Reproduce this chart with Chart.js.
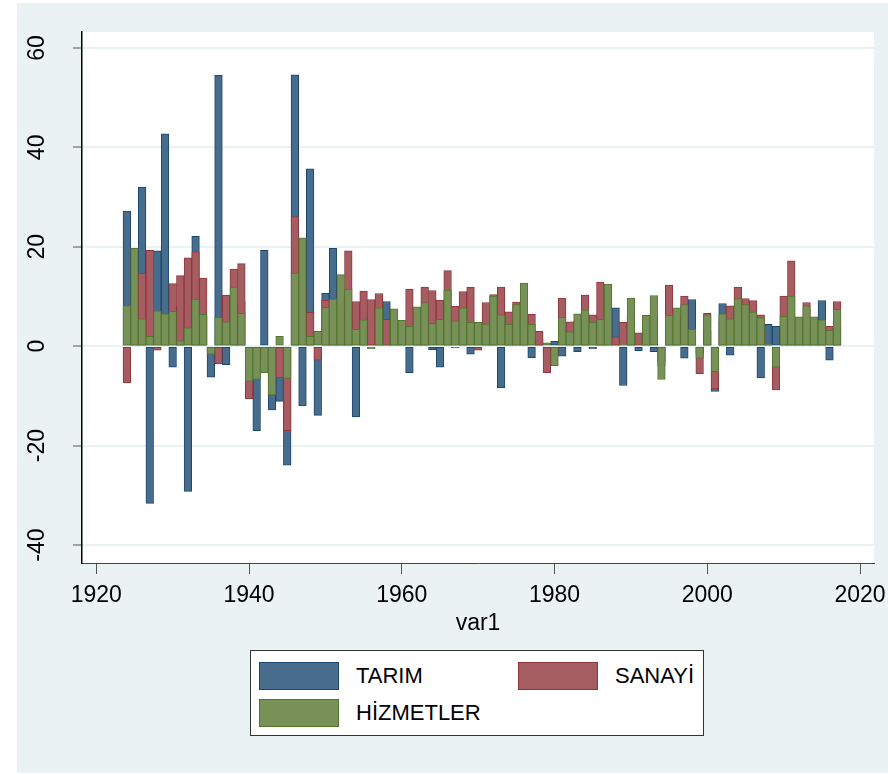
<!DOCTYPE html>
<html>
<head>
<meta charset="utf-8">
<script src="https://cdn.jsdelivr.net/npm/chart.js@4.4.0/dist/chart.umd.min.js"></script>
<style>
  body { margin: 0; background: #fff; }
  #bg { position: absolute; left: 17px; top: 3px; width: 871px; height: 770px; background: #eaf2f3; }
  #c { position: absolute; left: 0; top: 0; }
  #legend {
    position: absolute; left: 250px; top: 650px; width: 454px; height: 86px;
    background: #fff; border: 1px solid #333;
    display: grid; grid-template-columns: 259px 180px; grid-auto-rows: 37px;
    padding: 11px 0 0 8px; box-sizing: border-box;
    font-family: 'Liberation Sans', Arial, sans-serif; font-size: 22px; color: #000;
  }
  .item { display: flex; align-items: center; height: 28px; }
  .sw { width: 78px; height: 26px; border: 1px solid; margin-right: 17px; }
</style>
</head>
<body>
<div id="bg"></div>
<canvas id="c" width="888" height="774"></canvas>
<div id="legend"></div>
<script>
let years = [1924, 1925, 1926, 1927, 1928, 1929, 1930, 1931, 1932, 1933, 1934, 1935, 1936, 1937, 1938, 1939,
  1940, 1941, 1942, 1943, 1944, 1945, 1946, 1947, 1948, 1949, 1950, 1951, 1952, 1953, 1954, 1955,
  1956, 1957, 1958, 1959, 1960, 1961, 1962, 1963, 1964, 1965, 1966, 1967, 1968, 1969, 1970, 1971,
  1972, 1973, 1974, 1975, 1976, 1977, 1978, 1979, 1980, 1981, 1982, 1983, 1984, 1985, 1986, 1987,
  1988, 1989, 1990, 1991, 1992, 1993, 1994, 1995, 1996, 1997, 1998, 1999, 2000, 2001, 2002, 2003,
  2004, 2005, 2006, 2007, 2008, 2009, 2010, 2011, 2012, 2013, 2014, 2015, 2016, 2017];

let tarim = [27.2, 12.0, 32.0, -31.6, 19.2, 42.7, -4.2, 8.0, -29.2, 22.1, 6.0, -6.2, 54.5, -3.7, 8.0, 9.0,
  -5.0, -17.0, 19.3, -12.8, -11.1, -23.9, 54.6, -12.0, 35.7, -13.9, 10.7, 19.7, 8.0, 5.0, -14.2, 6.0,
  4.0, 5.0, 9.0, 4.0, 3.0, -5.3, 4.0, 6.0, -0.7, -4.2, 7.0, -0.3, 5.0, -1.6, 3.0, 4.0,
  6.0, -8.4, 3.0, 5.0, 6.0, -2.3, 1.5, -2.0, 1.0, -2.0, 2.0, -1.1, 5.0, -0.5, 6.0, 8.0,
  7.7, -7.9, 4.0, -0.9, 3.0, -1.1, -3.0, 5.0, 4.0, -2.4, 9.4, -1.5, 3.0, -9.1, 8.6, -1.8,
  3.0, 4.0, 3.0, -6.4, 4.4, 4.0, 2.0, 5.0, 3.0, 4.0, 3.0, 9.2, -2.8, 4.0];

let sanayi = [-7.4, 9.0, 14.7, 19.3, -0.8, 5.0, 12.6, 14.2, 17.8, 19.0, 13.7, -1.2, -3.5, 10.3, 15.5, 16.6,
  -10.6, -4.0, -3.0, -6.0, -6.4, -17.0, 26.1, 12.0, 6.8, -2.8, 9.3, 7.0, 10.0, 19.2, 9.0, 11.1,
  9.4, 10.6, 5.4, 5.0, 4.0, 11.5, 6.0, 11.9, 11.2, 9.3, 15.2, 8.0, 11.0, 11.9, -0.8, 8.8,
  10.4, 11.9, 6.9, 8.9, 8.0, 6.4, 3.0, -5.3, -2.0, 9.7, 4.9, 5.0, 10.3, 6.3, 12.9, 9.0,
  1.9, 4.8, 6.0, 2.7, 4.0, 6.0, -4.0, 12.3, 6.0, 10.1, 2.0, -5.5, 6.6, -8.6, 5.0, 8.1,
  11.9, 9.6, 9.2, 6.3, 0.3, -8.8, 10.1, 17.2, 4.0, 8.8, 4.0, 4.0, 4.0, 9.0];

let hizmetler = [8.2, 19.7, 5.5, 2.0, 7.1, 6.5, 7.0, 1.1, 3.7, 9.5, 6.4, -1.6, 5.8, 4.9, 11.9, 6.6,
  -7.1, -6.7, -5.3, -9.8, 2.0, -6.5, 14.7, 21.8, 2.0, 3.0, 7.8, 9.5, 14.4, 11.5, 3.4, 5.3,
  -0.5, 7.7, 0.3, 7.5, 5.2, 4.0, 7.9, 8.8, 4.6, 5.4, 11.3, 5.1, 7.7, 4.8, 4.8, 4.5,
  10.1, 6.3, 4.4, 8.4, 12.7, 4.4, 0.2, 0.7, -3.9, 5.8, 2.9, 6.5, 7.3, 4.8, 5.4, 12.5,
  0.2, 0.4, 9.7, 0.2, 6.2, 10.2, -6.7, 6.2, 7.7, 8.4, 3.4, -2.4, 6.3, -5.1, 6.5, 5.5,
  9.6, 8.4, 6.9, 5.7, 0.4, -4.2, 6.0, 10.1, 5.9, 8.1, 5.9, 5.3, 3.2, 7.4];

let seriesNames = ['TARIM', 'SANAYİ', 'HİZMETLER'];
let fillColors = ['rgb(72,108,140)', 'rgb(166,93,98)', 'rgb(119,145,89)'];
let lineColors = ['#1a476f', '#90353b', '#55752f'];
let xTicks = [1920, 1940, 1960, 1980, 2000, 2020];
let yTicks = [-40, -20, 0, 20, 40, 60];

let allSeries = [tarim, sanayi, hizmetler];
let tickFont = { family: 'Liberation Sans', size: 23 };

let datasets = allSeries.map((vals, i) => ({
    label: seriesNames[i],
    data: years.map((yr, j) => ({ x: yr, y: vals[j] })),
    backgroundColor: fillColors[i],
    borderColor: lineColors[i],
    borderWidth: 1,
    borderSkipped: false,
    grouped: false,
    order: 2 - i,   // green on top, blue at the back
    barPercentage: 1,
    categoryPercentage: 1
}));

const plotBg = {
    id: 'plotBg',
    beforeDraw(chart) {
        const { ctx, chartArea: a } = chart;
        ctx.save();
        ctx.fillStyle = '#fff';
        ctx.fillRect(a.left, a.top, a.right - a.left, a.bottom - a.top);
        ctx.restore();
    }
};

new Chart(document.getElementById('c').getContext('2d'), {
    type: 'bar',
    data: { datasets: datasets },
    plugins: [plotBg],
    options: {
        responsive: false,
        animation: false,
        layout: { padding: { left: 17, right: 14, top: 32, bottom: 133 } },
        plugins: { legend: { display: false }, tooltip: { enabled: false } },
        scales: {
            x: {
                type: 'linear',
                min: 1918.13,
                max: 2021.83,
                offset: false,
                grid: { offset: false, drawOnChartArea: false, drawTicks: true, tickLength: 11, tickColor: '#555', tickWidth: 1 },
                border: { display: true, color: '#444', width: 1 },
                ticks: { font: tickFont, color: '#000', padding: 8, maxRotation: 0, minRotation: 0, callback: v => String(v) },
                title: { display: true, text: 'var1', font: tickFont, color: '#000' },
                afterBuildTicks: s => { s.ticks = xTicks.map(v => ({ value: v })); },
                afterFit: s => { s.height = 78; s.paddingLeft = 0; s.paddingRight = 0; }
            },
            y: {
                min: -43.6,
                max: 63.2,
                grid: { color: '#eaf2f3', lineWidth: 2, drawTicks: true, tickLength: 9, tickColor: '#555', tickWidth: 1 },
                border: { display: true, color: '#000', width: 1.5 },
                ticks: { font: tickFont, color: '#000', padding: 19, minRotation: 90, maxRotation: 90, crossAlign: 'center' },
                afterBuildTicks: s => { s.ticks = yTicks.map(v => ({ value: v })); },
                afterFit: s => { s.width = 65; s.paddingTop = 0; s.paddingBottom = 0; }
            }
        }
    }
});

// legend box like the Stata one: two columns
let legend = document.getElementById('legend');
seriesNames.forEach((name, i) => {
    let item = document.createElement('div');
    item.className = 'item';
    item.innerHTML = '<div class="sw" style="background:' + fillColors[i] + ';border-color:' + lineColors[i] + '"></div><span>' + name + '</span>';
    legend.appendChild(item);
});
</script>
</body>
</html>
